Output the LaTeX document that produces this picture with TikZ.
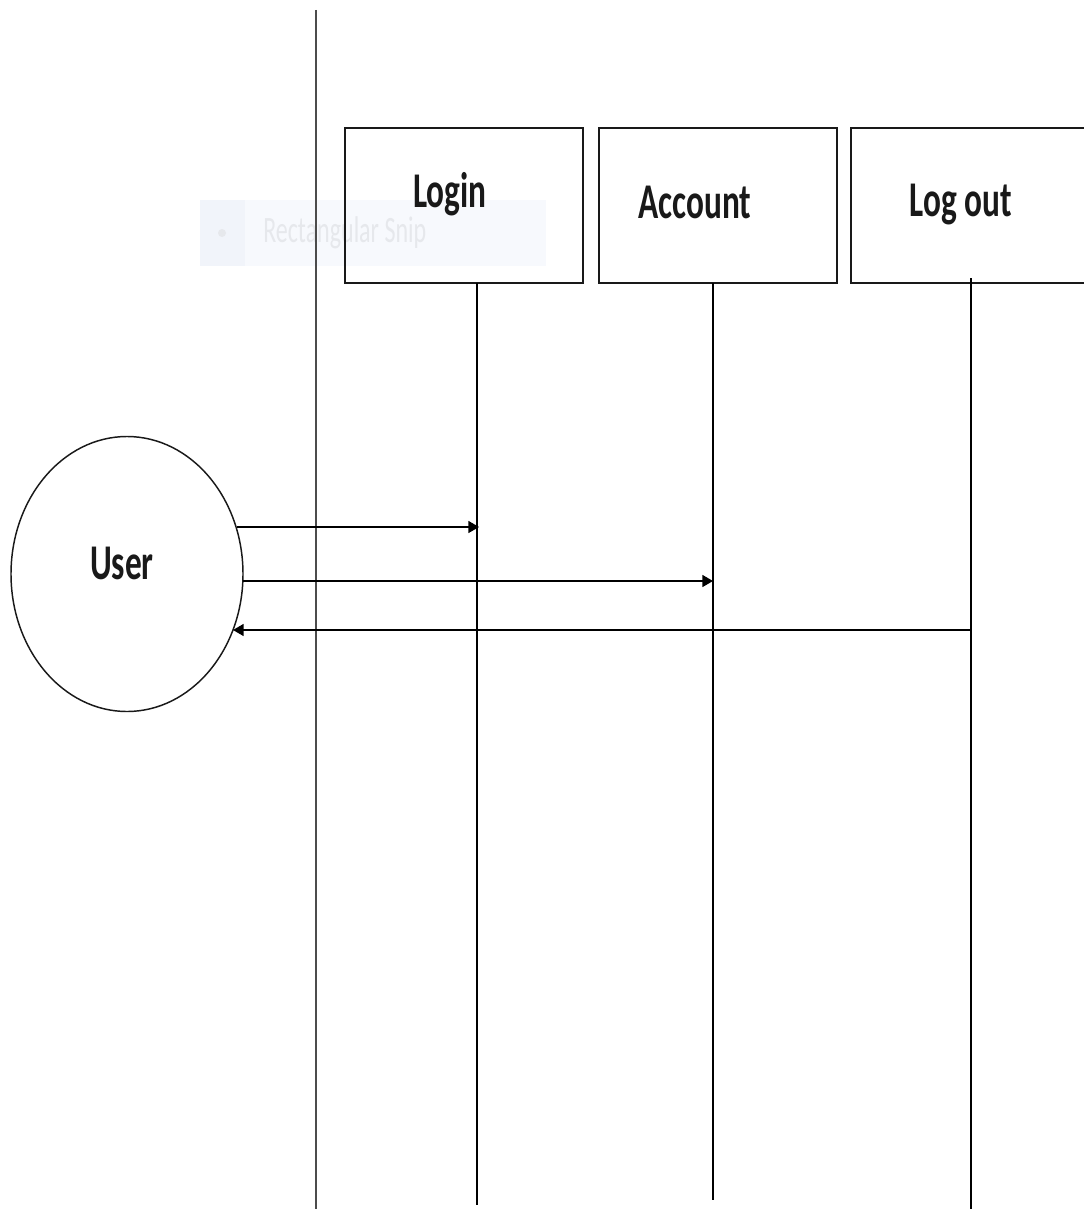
\documentclass[tikz,border=0pt]{standalone}
\usepackage{fontspec}
\setmainfont{Carlito}
\usetikzlibrary{shapes.geometric,arrows.meta}
\definecolor{snipbg}{RGB}{247,249,253}
\definecolor{snipsq}{RGB}{241,244,250}
\definecolor{sniptx}{RGB}{230,232,236}
\tikzset{
  boxst/.style={draw=black!90,line width=1.3pt,minimum width=178.5pt,minimum height=116.25pt,inner sep=0pt},
  lbl/.style={font=\fontsize{25}{30}\selectfont\bfseries,inner sep=0pt,text=black!90},
  life/.style={draw=black,line width=1pt},
  msg/.style={draw=black,line width=1.1pt,-{Triangle[length=8pt,width=9pt]}},
}
\begin{document}
\begin{tikzpicture}[x=0.75pt,y=-0.75pt]
\useasboundingbox[fill=white] (0,0) rectangle (1084,1209);
% faded snip overlay
\fill[snipbg] (200,200) rectangle (546,266);
\fill[snipsq] (200,200) rectangle (245,266);
\fill[sniptx] (222,233) circle (4);
\node[font=\fontsize{18}{22}\selectfont,text=sniptx,anchor=west,inner sep=0pt] (snip) at (263,233) {\scalebox{1}[1.55]{Rectangular Snip}};
% boundary line
\coordinate (bTop) at (316,10);
\coordinate (bBot) at (316,1209);
\draw[draw=black!70,line width=1.3pt] (bTop) -- (bBot);
% boxes
\node[boxst] (login) at (464,205.5) {};
\node[boxst] (account) at (718,205.5) {};
\node[boxst,minimum width=181.5pt] (logout) at (972,205.5) {};
\node[lbl] (loginT) at (450,194) {\scalebox{1}[1.5]{Login}};
\node[lbl] (accountT) at (695,202) {\scalebox{1}[1.5]{Account}};
\node[lbl] (logoutT) at (961,205) {\scalebox{1}[1.5]{Log out}};
% user
\node[ellipse,draw=black!90,line width=1.1pt,minimum width=174pt,minimum height=206.25pt,inner sep=0pt] (user) at (127,574) {};
\node[lbl] (userT) at (122,563) {\scalebox{1}[1.5]{User}};
% points on the user's border
\coordinate (u1) at (236.5,527);
\coordinate (u2) at (243,581);
\coordinate (u3) at (233,630);
% lifelines
\coordinate (l1a) at (477,283); \coordinate (l1b) at (477,1205);
\coordinate (l2a) at (713,283); \coordinate (l2b) at (713,1200);
\coordinate (l3a) at (971,278); \coordinate (l3b) at (971,1209);
\draw[life] (l1a) -- (l1b);
\draw[life] (l2a) -- (l2b);
\draw[life] (l3a) -- (l3b);
% messages
\coordinate (m1) at (479,527);
\coordinate (m2) at (713,581);
\coordinate (m3) at (971,630);
\draw[msg] (u1) -- (m1);
\draw[msg] (u2) -- (m2);
\draw[msg] (m3) -- (u3);
\end{tikzpicture}
\end{document}
